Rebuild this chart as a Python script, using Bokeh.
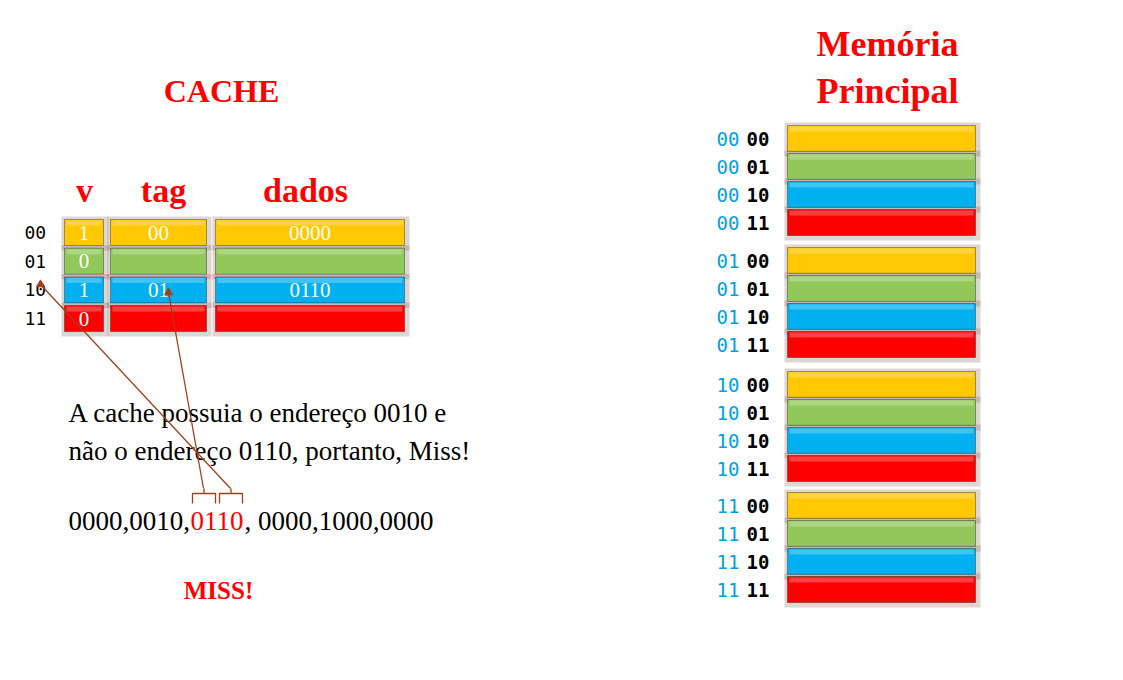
from bokeh.plotting import figure
from bokeh.models import Range1d
from bokeh.core.properties import value
from bokeh.embed import file_html
from bokeh.resources import INLINE

# cores por linha (00, 01, 10, 11)
row_colors = ["#FFC800", "#92C85A", "#00B0F0", "#FF0000"]
row_labels = ["00", "01", "10", "11"]

# conteudo da cache
cache_v = ["1", "0", "1", "0"]
cache_tag = ["00", "", "01", ""]
cache_dados = ["0000", "", "0110", ""]

# memoria principal: grupo (azul) + linha (preto)
mem_groups = ["00", "01", "10", "11"]
mem_lines = ["00", "01", "10", "11"]

SERIF = value("Liberation Serif")
MONO = value("DejaVu Sans Mono")
RED = "#FF0000"
ARROW = "#A0401A"

p = figure(width=1107, height=664, output_backend="svg", toolbar_location=None,
           x_range=Range1d(0, 1107), y_range=Range1d(664, 0), min_border=0)
p.axis.visible = False
p.grid.visible = False
p.outline_line_color = None


def bar(x0, x1, yc, color, h=26):
    p.quad(left=x0 - 3, right=x1 + 5, top=yc - h / 2 - 3, bottom=yc + h / 2 + 5,
           fill_color="#7a5a50", fill_alpha=0.25, line_color=None)
    p.quad(left=x0, right=x1, top=yc - h / 2, bottom=yc + h / 2,
           fill_color=color, line_color="#00000055", line_width=1)
    p.quad(left=x0 + 2, right=x1 - 2, top=yc - h / 2 + 1, bottom=yc - h / 2 + 6,
           fill_color="white", fill_alpha=0.25, line_color=None)


# ---- CACHE ----
p.text(x=[221], y=[90], text=["CACHE"], text_font=SERIF, text_font_size="32px",
       text_font_style="bold", text_color=RED, text_align="center", text_baseline="middle")
for x, t in [(84, "v"), (163, "tag"), (305, "dados")]:
    p.text(x=[x], y=[190], text=[t], text_font=SERIF, text_font_size="34px",
           text_font_style="bold", text_color=RED, text_align="center", text_baseline="middle")

cols = [(64, 103, cache_v), (110, 206, cache_tag), (215, 404, cache_dados)]
for i, lab in enumerate(row_labels):
    yc = 232 + i * 28.7
    p.text(x=[24], y=[yc], text=[lab], text_font=MONO, text_font_size="18px",
           text_color="black", text_baseline="middle")
    for x0, x1, vals in cols:
        bar(x0, x1, yc, row_colors[i])
        if vals[i]:
            p.text(x=[(x0 + x1) / 2], y=[yc], text=[vals[i]], text_font=SERIF,
                   text_font_size="21px", text_color="white", text_align="center",
                   text_baseline="middle")

p.text(x=[68, 68], y=[412, 450],
       text=["A cache possuia o endereço 0010 e", "não o endereço 0110, portanto, Miss!"],
       text_font=SERIF, text_font_size="27px", text_color="black", text_baseline="middle")

p.text(x=[68], y=[520], text=["0000,0010,"], text_font=SERIF, text_font_size="27px",
       text_color="black", text_baseline="middle")
p.text(x=[190], y=[520], text=["0110"], text_font=SERIF, text_font_size="27px",
       text_color=RED, text_baseline="middle")
p.text(x=[244], y=[520], text=[", 0000,1000,0000"], text_font=SERIF, text_font_size="27px",
       text_color="black", text_baseline="middle")

p.text(x=[218], y=[590], text=["MISS!"], text_font=SERIF, text_font_size="25px",
       text_font_style="bold", text_color=RED, text_align="center", text_baseline="middle")

# chaves sobre 01 e 10
for a, b in [(192, 215), (219, 242)]:
    m = (a + b) / 2
    p.line([a, a, m, m, m, b, b], [503, 493, 493, 488, 493, 493, 503],
           line_color=ARROW, line_width=1.3)

# setas
for x0, y0, x1, y1 in [(203, 488, 168, 292), (230, 488, 40, 284)]:
    p.line([x0, x1], [y0, y1], line_color=ARROW, line_width=1.3)
    p.scatter([x1], [y1], marker="triangle", size=8, color=ARROW)

# ---- MEMORIA PRINCIPAL ----
p.text(x=[887, 887], y=[43, 90], text=["Memória", "Principal"], text_font=SERIF,
       text_font_size="36px", text_font_style="bold", text_color=RED,
       text_align="center", text_baseline="middle")

group_tops = [138, 260, 384, 505]
for g, grp in enumerate(mem_groups):
    for j, ln in enumerate(mem_lines):
        yc = group_tops[g] + j * 28
        p.text(x=[716], y=[yc], text=[grp], text_font=MONO, text_font_size="19px",
               text_color="#00A0E0", text_baseline="middle")
        p.text(x=[746], y=[yc], text=[ln], text_font=MONO, text_font_size="19px",
               text_font_style="bold", text_color="black", text_baseline="middle")
        bar(787, 975, yc, row_colors[j])

open("out.html", "w").write(file_html(p, INLINE))
